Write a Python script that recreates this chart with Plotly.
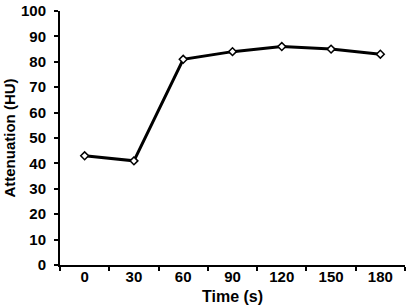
import plotly.graph_objects as go

time_labels = ["0", "30", "60", "90", "120", "150", "180"]
attenuation = [43, 41, 81, 84, 86, 85, 83]

FAM = "Liberation Sans, Arial, sans-serif"

fig = go.Figure()
fig.add_trace(go.Scatter(
    x=time_labels, y=attenuation, mode="lines+markers",
    line=dict(color="black", width=3),
    marker=dict(symbol="diamond", size=6, color="white",
                line=dict(color="black", width=1.5)),
    showlegend=False,
))

fig.update_layout(
    width=412, height=306,
    margin=dict(l=60, r=7, t=11, b=41),
    paper_bgcolor="white", plot_bgcolor="white",
    font=dict(family=FAM, size=15, color="black"),
)
fig.update_xaxes(
    type="category", range=[-0.5, 6.5], tickson="boundaries",
    automargin=False,
    showline=True, linecolor="black", linewidth=2,
    ticks="outside", ticklen=4, tickwidth=1.5, tickcolor="black",
    showgrid=False, zeroline=False,
    tickfont=dict(family=FAM, size=15, color="black", weight="bold"),
    ticklabelstandoff=-3,
)
fig.add_annotation(
    text="<b>Time (s)</b>", xref="paper", yref="paper",
    x=0.5, y=-31 / 254, xanchor="center", yanchor="middle",
    showarrow=False, font=dict(family=FAM, size=16, color="black"),
)
fig.update_yaxes(
    range=[0, 100], dtick=10,
    automargin=False,
    showline=True, linecolor="black", linewidth=2,
    ticks="outside", ticklen=4, tickwidth=1.5, tickcolor="black",
    showgrid=False, zeroline=False,
    tickfont=dict(family=FAM, size=15, color="black", weight="bold"),
    ticklabelstandoff=5,
    title=dict(text="<b>Attenuation (HU)</b>", standoff=2,
               font=dict(family=FAM, size=15, color="black")),
)
fig.write_html("out.html")
